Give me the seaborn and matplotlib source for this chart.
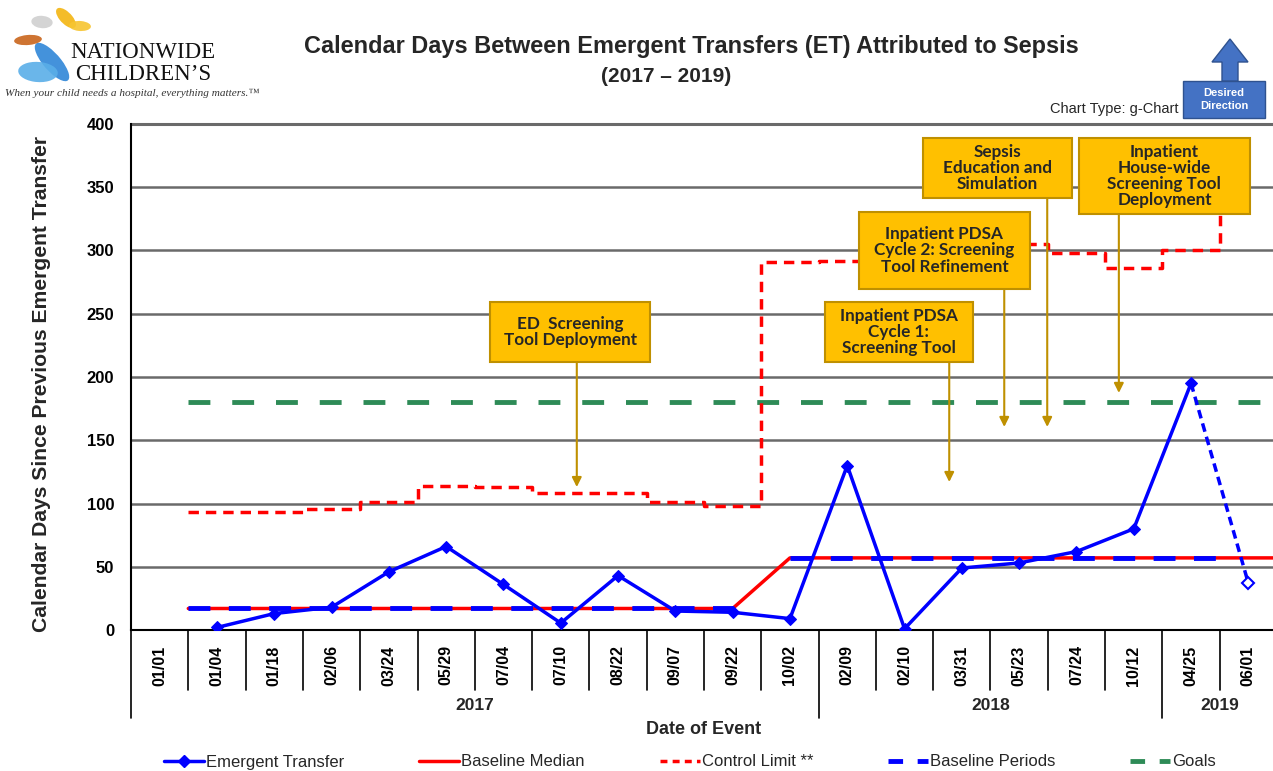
import numpy as np
import pandas as pd
import matplotlib
matplotlib.use("Agg")
import matplotlib.pyplot as plt
import matplotlib.transforms as mtransforms
from matplotlib.patches import Rectangle, Ellipse, Polygon
from matplotlib.lines import Line2D
import seaborn as sns

# ---------------- data ----------------
categories = ["01/01", "01/04", "01/18", "02/06", "03/24", "05/29", "07/04", "07/10",
              "08/22", "09/07", "09/22", "10/02", "02/09", "02/10", "03/31", "05/23",
              "07/24", "10/12", "04/25", "06/01"]
year_labels = ["2017", "2018", "2019"]
year_first_idx = [0, 12, 18]          # first category index of each year group
days_between = [np.nan, 2, 13, 18, 46, 66, 36, 5.5, 43, 15, 14, 9, 130, 1, 49, 53, 62, 80, 195, 37]
control_limit = [np.nan, 93, 93, 96, 101, 114, 113, 108.5, 108, 101, 98, 291, 292, 293, 295,
                 305, 298, 286, 300, 335]
baseline_median = [np.nan, 17, 17, 17, 17, 17, 17, 17, 17, 17, 17, 57, 57, 57, 57, 57, 57, 57, 57, 57]
period1_median = 17
period2_median = 57
goal_value = 180

annotations = [
    ("ED  Screening\nTool Deployment", (5.765, 211.9, 8.558, 259.3), 7.28, 113.0),
    ("Inpatient PDSA\nCycle 1:\nScreening Tool", (11.61, 211.9, 14.19, 259.3), 13.78, 117.0),
    ("Inpatient PDSA\nCycle 2: Screening\nTool Refinement", (12.20, 269.6, 15.19, 330.4), 14.74, 160.5),
    ("Sepsis\nEducation and\nSimulation", (13.32, 341.5, 15.92, 388.9), 15.49, 160.5),
    ("Inpatient\nHouse-wide\nScreening Tool\nDeployment", (16.04, 328.9, 19.03, 388.9), 16.74, 187.4),
]

# ---------------- styling ----------------
sns.set_theme(style="white")
plt.rcParams["font.family"] = ["Liberation Sans", "DejaVu Sans"]

W, H = 1273, 771
def fx(px):
    return px / W
def fy(py):
    return 1 - py / H

fig = plt.figure(figsize=(W / 100, H / 100), dpi=100)
ax = fig.add_axes([fx(131), fy(630), (1277 - 131) / W, (630 - 124) / H])

n = len(categories)
pos = np.arange(n)

BLUE = "#0000FF"
RED = "#FF0000"
GREEN = "#2E8B57"
GOLD = "#FFC000"
GOLD_EDGE = "#BF9000"

# Goals
goal_df = pd.DataFrame({"x": [0.5, n - 0.5], "y": [goal_value, goal_value]})
sns.lineplot(data=goal_df, x="x", y="y", ax=ax, color=GREEN, lw=3.5,
             linestyle=(0, (4.5, 4.5)), solid_capstyle="butt", zorder=3)

# Baseline median (solid red)
bm = pd.DataFrame({"x": pos[1:], "y": baseline_median[1:]})
bm = pd.concat([pd.DataFrame({"x": [0.5], "y": [baseline_median[1]]}), bm,
                pd.DataFrame({"x": [n - 0.5], "y": [baseline_median[-1]]})])
sns.lineplot(data=bm, x="x", y="y", ax=ax, color=RED, lw=2.5, sort=False, zorder=4)

# Baseline periods (blue dashed)
p1 = pd.DataFrame({"x": [0.5, 10], "y": [period1_median] * 2})
p2 = pd.DataFrame({"x": [11, 18.5], "y": [period2_median] * 2})
for p in (p1, p2):
    sns.lineplot(data=p, x="x", y="y", ax=ax, color=BLUE, lw=3.5,
                 linestyle=(0, (4.5, 3.8)), zorder=5)

# Control limit (red dashed step)
cl_x = list(np.arange(1, n) - 0.5) + [n - 1]
cl_y = list(control_limit[1:]) + [control_limit[-1]]
cl = pd.DataFrame({"x": cl_x, "y": cl_y})
sns.lineplot(data=cl, x="x", y="y", ax=ax, color=RED, lw=2.5, sort=False,
             drawstyle="steps-post", linestyle=(0, (3, 2)), zorder=4)

# Emergent transfers
et = pd.DataFrame({"x": pos, "y": days_between})
solid = et.iloc[1:n - 1]
sns.lineplot(data=solid, x="x", y="y", ax=ax, color=BLUE, lw=2.5, marker="D",
             markersize=6.5, markeredgecolor=BLUE, sort=False, zorder=6)
last = et.iloc[n - 2:n]
sns.lineplot(data=last, x="x", y="y", ax=ax, color=BLUE, lw=2.5,
             linestyle=(0, (2.5, 1.5)), sort=False, zorder=6)
ax.plot(pos[-1], days_between[-1], marker="D", markersize=6.5, markerfacecolor="white",
        markeredgecolor=BLUE, markeredgewidth=1.5, zorder=7, linestyle="none")

if ax.get_legend() is not None:
    ax.get_legend().remove()

# Axes setup
ax.set_xlim(-0.5, n - 0.5)
ax.set_ylim(0, 400)
ax.set_yticks(range(0, 401, 50))
ax.set_yticklabels([str(v) for v in range(0, 401, 50)], fontsize=12, fontweight="bold")
ax.tick_params(axis="y", length=0, pad=12, colors="black")
ax.set_xticks(pos)
ax.set_xticklabels(categories, rotation=90, fontsize=11.5, fontweight="bold")
ax.tick_params(axis="x", length=0, pad=11, colors="black")
ax.set_xlabel("")
ax.set_ylabel("")
ax.yaxis.grid(True, color="#6a6a6a", lw=1.8)
ax.xaxis.grid(False)
ax.set_axisbelow(True)
for s in ("top", "right"):
    ax.spines[s].set_visible(False)
ax.spines["left"].set_color("black")
ax.spines["left"].set_linewidth(1.5)
ax.spines["bottom"].set_color("black")
ax.spines["bottom"].set_linewidth(1.5)
ax.axhline(400, color="#6a6a6a", lw=2.2, zorder=1, clip_on=False)

# Category dividers & year grouping
trans = mtransforms.blended_transform_factory(ax.transData, ax.transAxes)
ah = 630 - 124
lvl1 = -(690 - 630) / ah
lvl2 = -(718 - 630) / ah
group_edges = set([i - 0.5 for i in year_first_idx] + [n - 0.5])
for k in range(n + 1):
    xk = k - 0.5
    bottom = lvl2 if xk in group_edges else lvl1
    ax.plot([xk, xk], [0, bottom], color="black", lw=1.2, transform=trans, clip_on=False)
bounds = year_first_idx + [n]
for lab, a, b in zip(year_labels, bounds[:-1], bounds[1:]):
    ax.text((a + b - 1) / 2, -(705 - 630) / ah, lab, transform=trans, ha="center",
            va="center", fontsize=12.5, fontweight="bold")
ax.text(0.5, -(730 - 630) / ah, "Date of Event", transform=ax.transAxes, ha="center",
        va="center", fontsize=13, fontweight="bold")

# Annotation boxes
for text, (x0, y0, x1, y1), axx, tip in annotations:
    ax.add_patch(Rectangle((x0, y0), x1 - x0, y1 - y0, facecolor=GOLD, edgecolor=GOLD_EDGE,
                           lw=1.5, zorder=10, clip_on=False))
    ax.text((x0 + x1) / 2, (y0 + y1) / 2, text, ha="center", va="center", fontsize=12.3,
            fontweight="bold", family=["Lato", "DejaVu Sans"], linespacing=1.02, zorder=11)
    ax.annotate("", xy=(axx, tip), xytext=(axx, y0),
                arrowprops=dict(arrowstyle="-|>", color=GOLD_EDGE, lw=1.5,
                                mutation_scale=14, shrinkA=0, shrinkB=0), zorder=9)

# Titles
fig.text(fx(691), fy(47), "Calendar Days Between Emergent Transfers (ET) Attributed to Sepsis",
         ha="center", va="center", fontsize=16.9, fontweight="bold")
fig.text(fx(666), fy(77), "(2017 \u2013 2019)", ha="center", va="center", fontsize=15,
         fontweight="bold")
fig.text(fx(42), fy(384), "Calendar Days Since Previous Emergent Transfer", rotation=90,
         ha="center", va="center", fontsize=15.2, fontweight="bold")
fig.text(fx(1179), fy(109), "Chart Type: g-Chart", ha="right", va="center", fontsize=10.5)

# Desired direction
fig.add_artist(Rectangle((fx(1183), fy(118)), fx(1265) - fx(1183), fy(81) - fy(118),
                         transform=fig.transFigure, facecolor="#4472C4", edgecolor="#2F528F",
                         lw=1))
fig.text(fx(1224), fy(99.5), "Desired\nDirection", ha="center", va="center", fontsize=8,
         fontweight="bold", color="white", linespacing=1.3)
arrow_pts = [(1222, 81), (1222, 62), (1212, 62), (1230, 39), (1248, 62), (1238, 62), (1238, 81)]
fig.add_artist(Polygon([(fx(a), fy(b)) for a, b in arrow_pts], closed=True,
                       transform=fig.transFigure, facecolor="#4472C4", edgecolor="#2F528F",
                       lw=1))

# Logo (approximation of butterflies)
for (cx, cy, w, h, ang, col) in [(52, 62, 20, 42, 25, "#2F86D8"), (38, 72, 40, 20, -15, "#5AAEE8"),
                                 (28, 40, 28, 10, 10, "#C9651C"), (42, 22, 22, 12, -35, "#D0D0D0"),
                                 (66, 18, 14, 22, 25, "#F3B512"), (80, 26, 22, 10, -10, "#F7C531")]:
    fig.add_artist(Ellipse((fx(cx), fy(cy)), w / W, h / H, angle=ang,
                           transform=fig.transFigure, facecolor=col, edgecolor="none", alpha=0.9))
fig.text(fx(143), fy(52), "NATIONWIDE", ha="center", va="center", fontsize=16.5,
         family=["Liberation Serif", "DejaVu Serif"], color="#111111")
fig.text(fx(143), fy(75), "CHILDREN\u2019S", ha="center", va="center", fontsize=16.5,
         family=["Liberation Serif", "DejaVu Serif"], color="#111111")
fig.text(fx(5), fy(93), "When your child needs a hospital, everything matters.\u2122", ha="left",
         va="center", fontsize=8.1, style="italic", family=["Liberation Serif", "DejaVu Serif"],
         color="#333333")

# Legend
handles = [
    Line2D([], [], color=BLUE, lw=2.5, marker="D", markersize=6),
    Line2D([], [], color=RED, lw=2.5),
    Line2D([], [], color=RED, lw=2.5, linestyle=(0, (2, 1.5))),
    Line2D([], [], color=BLUE, lw=3.5, linestyle=(0, (3, 3))),
    Line2D([], [], color=GREEN, lw=3.5, linestyle=(0, (3, 3))),
]
labels = ["Emergent Transfer", "Baseline Median", "Control Limit **", "Baseline Periods", "Goals"]
fig.legend(handles, labels, loc="center", bbox_to_anchor=(fx(690), fy(762)), ncol=5,
           frameon=False, fontsize=12, handlelength=2.4, handletextpad=0.12,
           columnspacing=4.5)

fig.savefig("out.png", dpi=100)
